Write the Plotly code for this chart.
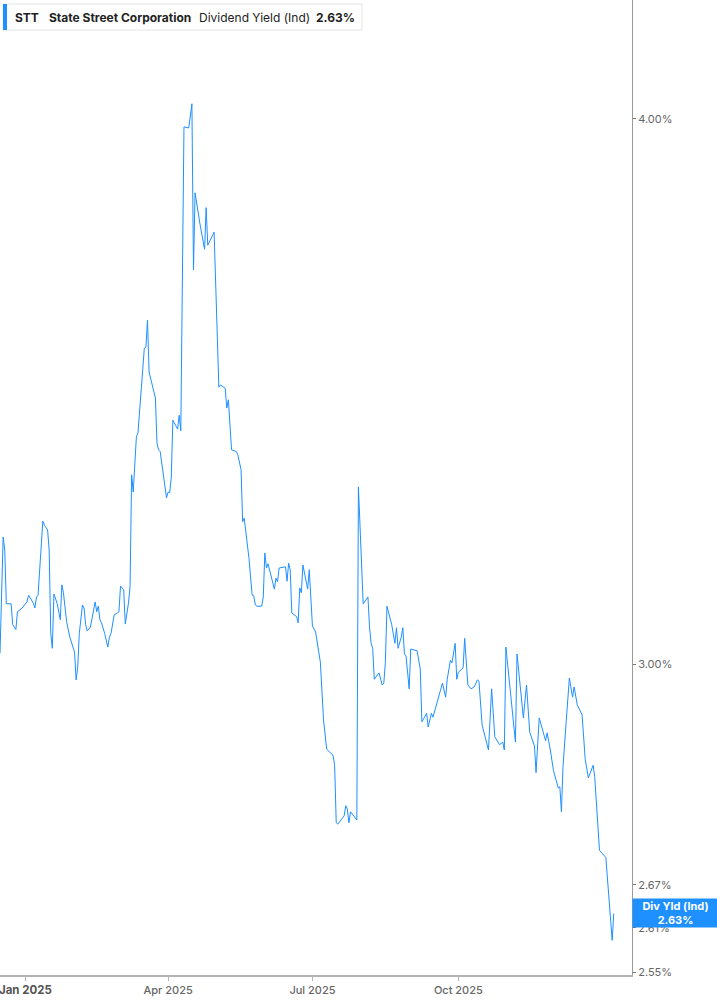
import math
import plotly.graph_objects as go

# STT indicated dividend yield (%)
dates = [
    "2024-12-16", "2024-12-18", "2024-12-19", "2024-12-20", "2024-12-23", "2024-12-24",
    "2024-12-26", "2024-12-27", "2024-12-30", "2025-01-02", "2025-01-03", "2025-01-06",
    "2025-01-07", "2025-01-08", "2025-01-09", "2025-01-12", "2025-01-13", "2025-01-15",
    "2025-01-16", "2025-01-17", "2025-01-18", "2025-01-19", "2025-01-21", "2025-01-23",
    "2025-01-24", "2025-01-25", "2025-01-27", "2025-01-29", "2025-01-31", "2025-02-01",
    "2025-02-02", "2025-02-03", "2025-02-04", "2025-02-06", "2025-02-07", "2025-02-08",
    "2025-02-09", "2025-02-11", "2025-02-14", "2025-02-15", "2025-02-16", "2025-02-17",
    "2025-02-18", "2025-02-20", "2025-02-22", "2025-02-23", "2025-02-24", "2025-02-26",
    "2025-02-28", "2025-03-01", "2025-03-02", "2025-03-04", "2025-03-05", "2025-03-07",
    "2025-03-08", "2025-03-09", "2025-03-10", "2025-03-12", "2025-03-13", "2025-03-17",
    "2025-03-18", "2025-03-19", "2025-03-20", "2025-03-24", "2025-03-25", "2025-03-26",
    "2025-03-27", "2025-03-31", "2025-04-01", "2025-04-02", "2025-04-03", "2025-04-04",
    "2025-04-07", "2025-04-08", "2025-04-09", "2025-04-10", "2025-04-11", "2025-04-14",
    "2025-04-16", "2025-04-17", "2025-04-18", "2025-04-21", "2025-04-24", "2025-04-25",
    "2025-04-26", "2025-04-30", "2025-05-02", "2025-05-03", "2025-05-04", "2025-05-07",
    "2025-05-08", "2025-05-09", "2025-05-11", "2025-05-14", "2025-05-15", "2025-05-17",
    "2025-05-18", "2025-05-19", "2025-05-22", "2025-05-24", "2025-05-25", "2025-05-26",
    "2025-05-27", "2025-05-30", "2025-05-31", "2025-06-01", "2025-06-02", "2025-06-03",
    "2025-06-07", "2025-06-08", "2025-06-09", "2025-06-10", "2025-06-14", "2025-06-15",
    "2025-06-16", "2025-06-17", "2025-06-18", "2025-06-21", "2025-06-22", "2025-06-23",
    "2025-06-24", "2025-06-25", "2025-06-28", "2025-06-29", "2025-07-01", "2025-07-03",
    "2025-07-06", "2025-07-08", "2025-07-10", "2025-07-14", "2025-07-15", "2025-07-16",
    "2025-07-17", "2025-07-21", "2025-07-22", "2025-07-23", "2025-07-24", "2025-07-25",
    "2025-07-29", "2025-07-30", "2025-08-02", "2025-08-05", "2025-08-06", "2025-08-07",
    "2025-08-08", "2025-08-09", "2025-08-12", "2025-08-14", "2025-08-15", "2025-08-16",
    "2025-08-17", "2025-08-20", "2025-08-22", "2025-08-23", "2025-08-24", "2025-08-26",
    "2025-08-27", "2025-08-28", "2025-08-29", "2025-08-31", "2025-09-01", "2025-09-04",
    "2025-09-05", "2025-09-07", "2025-09-08", "2025-09-09", "2025-09-11", "2025-09-12",
    "2025-09-14", "2025-09-15", "2025-09-18", "2025-09-21", "2025-09-23", "2025-09-24",
    "2025-09-26", "2025-09-27", "2025-09-29", "2025-09-30", "2025-10-01", "2025-10-04",
    "2025-10-05", "2025-10-07", "2025-10-09", "2025-10-11", "2025-10-13", "2025-10-14",
    "2025-10-16", "2025-10-20", "2025-10-22", "2025-10-24", "2025-10-27", "2025-10-29",
    "2025-10-30", "2025-10-31", "2025-11-06", "2025-11-07", "2025-11-11", "2025-11-13",
    "2025-11-15", "2025-11-18", "2025-11-19", "2025-11-21", "2025-11-25", "2025-11-26",
    "2025-11-28", "2025-11-30", "2025-12-03", "2025-12-04", "2025-12-05", "2025-12-06",
    "2025-12-08", "2025-12-10", "2025-12-12", "2025-12-13", "2025-12-15", "2025-12-18",
    "2025-12-20", "2025-12-22", "2025-12-25", "2025-12-26", "2025-12-29", "2026-01-02",
    "2026-01-06", "2026-01-07",
]
div_yield = [
    3.017, 3.208, 3.186, 3.097, 3.097, 3.063,
    3.055, 3.084, 3.090, 3.100, 3.111, 3.098,
    3.090, 3.108, 3.111, 3.235, 3.228, 3.220,
    3.186, 3.049, 3.025, 3.113, 3.098, 3.071,
    3.128, 3.115, 3.068, 3.043, 3.027, 3.019,
    2.975, 2.995, 3.049, 3.095, 3.090, 3.063,
    3.053, 3.059, 3.100, 3.084, 3.093, 3.071,
    3.066, 3.049, 3.027, 3.043, 3.049, 3.079,
    3.082, 3.084, 3.126, 3.120, 3.064, 3.098,
    3.125, 3.315, 3.285, 3.382, 3.389, 3.544,
    3.546, 3.597, 3.500, 3.452, 3.371, 3.359,
    3.356, 3.275, 3.285, 3.284, 3.311, 3.412,
    3.396, 3.421, 3.393, 3.670, 3.983, 3.981,
    4.032, 3.694, 3.847, 3.786, 3.734, 3.817,
    3.742, 3.768, 3.546, 3.472, 3.476, 3.470,
    3.434, 3.449, 3.359, 3.356, 3.350, 3.324,
    3.234, 3.240, 3.172, 3.111, 3.110, 3.095,
    3.093, 3.093, 3.108, 3.181, 3.156, 3.163,
    3.121, 3.139, 3.133, 3.156, 3.158, 3.134,
    3.164, 3.153, 3.082, 3.076, 3.066, 3.123,
    3.115, 3.161, 3.121, 3.153, 3.061, 3.051,
    3.003, 2.913, 2.868, 2.859, 2.844, 2.759,
    2.757, 2.769, 2.784, 2.779, 2.759, 2.775,
    2.763, 3.294, 3.097, 3.108, 3.059, 3.033,
    3.025, 2.976, 2.986, 2.967, 2.970, 3.003,
    3.093, 3.063, 3.033, 3.058, 3.025, 3.043,
    3.058, 3.016, 3.013, 2.961, 3.024, 3.022,
    3.021, 2.992, 2.910, 2.914, 2.923, 2.902,
    2.923, 2.917, 2.944, 2.970, 2.948, 2.976,
    3.006, 3.002, 3.033, 2.976, 2.987, 2.994,
    3.041, 2.967, 2.961, 2.964, 2.975, 2.973,
    2.905, 2.867, 2.961, 2.887, 2.875, 2.879,
    2.867, 3.027, 2.879, 3.016, 2.916, 2.967,
    2.894, 2.873, 2.833, 2.916, 2.881, 2.893,
    2.867, 2.836, 2.810, 2.812, 2.775, 2.842,
    2.910, 2.978, 2.948, 2.964, 2.936, 2.921,
    2.853, 2.825, 2.844, 2.827, 2.719, 2.709,
    2.593, 2.630,
]

x_tickvals = ["2025-01-01", "2025-04-01", "2025-07-01", "2025-10-01"]
x_ticktext = ['<span style="font-size:11.5px;color:#555"><b>Jan 2025</b></span>',
              "Apr 2025", "Jul 2025", "Oct 2025"]
y_tickvals = [2.55, 2.61, 2.67, 3.00, 4.00]
y_ticktext = ["2.55%", "2.61%", "2.67%", "3.00%", "4.00%"]

ticker = "STT"
company = "State Street Corporation"
metric = "Dividend Yield (Ind)"
last_value = div_yield[-1]

BLUE = "#1E90FF"
FONT = "Inter, Roboto, Arial, sans-serif"

fig = go.Figure()
fig.add_trace(go.Scatter(x=dates, y=div_yield, mode="lines",
                         line=dict(color=BLUE, width=1), hoverinfo="skip"))

fig.update_layout(
    width=717, height=1005,
    margin=dict(l=0, r=85, t=0, b=30),
    paper_bgcolor="#ffffff", plot_bgcolor="#ffffff",
    showlegend=False,
    font=dict(family=FONT, color="#666"),
)
fig.update_xaxes(
    type="date", range=["2024-12-16", "2026-01-18 12:00"],
    showgrid=False, zeroline=False,
    showline=True, linecolor="#b4b4b4", linewidth=2,
    ticks="outside", ticklen=4, tickcolor="#b4b4b4",
    tickvals=x_tickvals, ticktext=x_ticktext,
    ticklabeloverflow="allow", automargin=False,
    tickfont=dict(size=11, color="#666", weight=500),
)
fig.update_yaxes(
    type="log", side="right",
    range=[math.log10(2.546), math.log10(4.259)],
    showgrid=False, zeroline=False,
    showline=True, linecolor="#9a9a9a", linewidth=1,
    ticks="outside", ticklen=3, tickcolor="#777",
    tickvals=y_tickvals, ticktext=y_ticktext,
    automargin=False,
    tickfont=dict(size=11, color="#666"),
)

# header box
fig.add_shape(type="rect", xref="paper", yref="paper",
              x0=3 / 632, x1=362 / 632, y0=1 - 30 / 975, y1=1 - 4 / 975,
              line=dict(color="#e4e4e4", width=1), fillcolor="#ffffff", layer="above")
fig.add_shape(type="rect", xref="paper", yref="paper",
              x0=3 / 632, x1=7 / 632, y0=1 - 30 / 975, y1=1 - 4 / 975,
              line=dict(width=0), fillcolor=BLUE, layer="above")
header = [(13, "<b>%s</b>" % ticker), (47, "<b>%s</b>" % company),
          (197, metric), (314, "<b>%.2f%%</b>" % last_value)]
for px, txt in header:
    fig.add_annotation(xref="paper", yref="paper", x=px / 632, y=1 - 17 / 975,
                       xanchor="left", yanchor="middle", showarrow=False, text=txt,
                       font=dict(family=FONT, size=12, color="#222"))

# last value label on the right axis
fig.add_annotation(xref="paper", yref="y", x=1, y=math.log10(last_value),
                   xanchor="left", yanchor="middle", showarrow=False,
                   text="<b>Div Yld (Ind)</b><br><b>%.2f%%</b>" % last_value,
                   align="center", width=81, height=24, borderpad=2,
                   bgcolor=BLUE, font=dict(family=FONT, size=11, color="#ffffff"))

fig.write_html("out.html", config={"displayModeBar": False},
               post_script="document.body.style.margin='0';")
